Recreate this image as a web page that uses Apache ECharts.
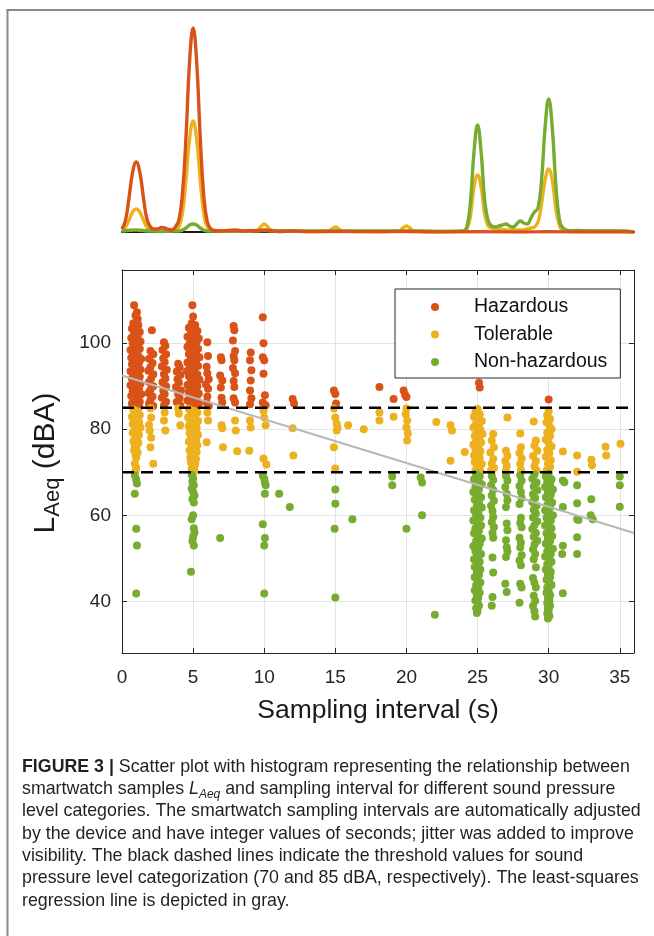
<!DOCTYPE html>
<html>
<head>
<meta charset="utf-8">
<script src="https://cdn.jsdelivr.net/npm/echarts@6/dist/echarts.min.js"></script>
<style>html,body{margin:0;padding:0;background:#fff}#c{width:654px;height:936px}</style>
</head>
<body>
<div id="c"></div>
<script>
// ---------- axis ticks / reference values ----------
const xTicks = [0, 5, 10, 15, 20, 25, 30, 35];
const yTicks = [40, 60, 80, 100];
const xRange = [0, 36];
const yRange = [28, 117];
const thresholds = [70, 85];
const regressionLine = [[0, 92.5], [36, 55.9]];
const categories = ['Hazardous', 'Tolerable', 'Non-hazardous'];

// ---------- top panel: smoothed histograms (relative density) ----------
const histHazardous = [[0,3],[0.25,12],[0.5,35],[0.75,60],[1,70],[1.25,60],[1.5,35],[1.75,13],[2,5],[2.25,3],[2.5,3],[2.75,4.5],[3,4],[3.25,2.5],[3.5,2],[3.75,5],[4,12],[4.25,38],[4.5,95],[4.75,170],[5,204],[5.25,170],[5.5,95],[5.75,36],[6,10],[6.25,3],[6.5,1.5],[7,1],[7.5,1.5],[8,2],[8.5,1],[9,1.5],[9.5,1],[10,2],[10.5,1],[11,0.5],[12,1],[13,0.3],[15,0.5],[18,0.3],[20,0.5],[22,0],[25,0.3],[28,0],[30,0.3],[32,0],[36,0]];
const histTolerable = [[0,1],[0.25,5],[0.5,12],[0.75,20],[1,23],[1.25,20],[1.5,12],[1.75,5],[2,2],[3,1],[3.75,2],[4,5],[4.25,19],[4.5,52],[4.75,93],[5,111],[5.25,93],[5.5,52],[5.75,19],[6,5],[6.5,1.5],[7,1],[8,1],[9,1],[9.5,2],[9.75,5],[10,8],[10.25,5],[10.5,2],[11,0.5],[12,1],[14,0.5],[14.5,1],[14.75,3],[15,5],[15.25,3],[15.5,1],[17,0.5],[19.5,1],[19.75,4],[20,6],[20.25,4],[20.5,1],[22,0.5],[24,0.5],[24.25,3],[24.5,16],[24.75,45],[25,57],[25.25,45],[25.5,18],[25.75,6],[26,4],[26.5,3],[27,2],[27.5,2],[28,2],[28.5,3],[28.75,4],[29,5],[29.25,10],[29.5,28],[29.75,52],[30,63],[30.25,52],[30.5,24],[30.75,7],[31,2],[32,1],[33,1],[34,1],[35,1],[36,0]];
const histNonHazardous = [[0,1],[1,2],[2,1],[3,1],[4,1],[4.25,2],[4.5,4],[4.75,7],[5,8],[5.25,7],[5.5,4],[5.75,2],[6,1],[8,1],[10,1.5],[12,1],[15,1],[20,1],[23,0.5],[24,1],[24.25,5],[24.5,30],[24.75,80],[25,107],[25.25,80],[25.5,32],[25.75,11],[26,6],[26.25,5],[26.5,6],[26.75,7],[27,8],[27.25,6],[27.5,5],[27.75,8],[28,11],[28.25,9],[28.5,8],[28.75,14],[29,20],[29.25,24],[29.5,52],[29.75,105],[30,133],[30.25,105],[30.5,48],[30.75,13],[31,4],[31.5,1],[32,1.5],[33,1],[34,1],[35,1],[36,0]];

// ---------- scatter: [sampling interval (s, jittered), LAeq (dBA)] ----------
const hazardous = [
[0.85,108.8],[1.05,107.2],[0.95,106.4],[1.1,105.6],[0.8,104.6],[1.15,104.2],
[0.7,103.4],[1.0,103.0],[1.25,102.6],[0.85,102.2],[1.1,101.6],[0.65,101.2],[0.95,100.8],[1.3,100.4],[0.75,100.0],[1.05,99.5],[0.9,99.0],[1.25,98.7],[0.6,98.4],[1.0,98.0],[0.8,97.5],[1.15,97.1],[0.65,96.6],[1.35,96.3],[0.95,96.0],[1.2,95.5],[0.7,95.1],[1.0,94.7],[0.85,94.2],[1.3,93.9],[0.6,93.5],[1.1,93.1],[0.9,92.6],[1.25,92.2],[0.7,91.8],[1.05,91.4],[0.85,90.9],[1.3,90.5],[0.6,90.2],[1.0,89.8],[1.2,89.3],[0.75,88.9],[0.95,88.5],[1.35,88.1],[0.65,87.7],[1.1,87.3],[0.85,86.8],[1.25,86.4],[0.7,86.0],[1.0,85.6],[1.2,85.2],[0.8,85.1],
[2.1,103.0],[2.0,98.2],[2.2,97.4],[1.9,96.4],[2.15,95.4],[2.0,94.4],[1.85,93.6],[2.2,92.8],[2.05,91.8],[1.9,91.0],[2.2,90.0],[2.0,89.2],[1.85,88.4],[2.15,87.6],[2.0,86.8],[1.9,86.0],[2.2,85.4],
[2.95,100.2],[3.05,99.4],[2.85,98.4],[3.1,97.4],[2.9,96.5],[3.0,95.6],[2.8,94.6],[3.15,93.8],[2.95,92.8],[3.05,91.8],[2.85,90.9],[3.1,90.0],[2.9,89.0],[3.0,88.2],[2.8,87.3],[3.1,86.4],[2.95,85.5],
[3.95,95.2],[4.05,94.4],[3.85,93.4],[4.1,92.6],[3.9,91.6],[4.0,90.8],[3.8,89.8],[4.15,89.0],[3.95,88.1],[4.05,87.2],[3.85,86.3],[4.1,85.5],
[4.95,108.8],[5.0,106.2],[4.9,104.6],[5.15,104.2],
[4.7,103.6],[5.05,103.2],[5.3,102.8],[4.85,102.4],[5.15,101.9],[4.6,101.5],[5.4,101.1],[4.95,100.7],[5.25,100.3],[4.75,99.9],[5.1,99.5],[4.6,99.1],[5.35,98.7],[4.9,98.3],[5.2,97.9],[4.7,97.5],[5.05,97.1],[5.45,96.7],[4.85,96.3],[5.2,95.9],[4.6,95.5],[5.0,95.1],[5.35,94.7],[4.75,94.3],[5.1,93.9],[4.55,93.5],[4.95,93.1],[5.3,92.7],[4.7,92.3],[5.15,91.9],[5.45,91.5],[4.85,91.1],[5.05,90.7],[4.6,90.3],[5.3,89.9],[4.9,89.5],[5.15,89.1],[4.7,88.7],[5.4,88.3],[5.0,87.9],[4.8,87.5],[5.25,87.1],[4.6,86.7],[5.05,86.3],[5.4,85.9],[4.85,85.5],[5.2,85.2],
[6.0,100.2],[6.05,97.0],[5.95,94.5],[6.0,93.0],[6.1,91.6],[5.9,90.4],[6.05,89.4],[6.0,87.6],[5.95,86.2],[6.1,85.4],
[6.95,96.7],[7.0,96.0],[6.9,92.5],[7.05,91.3],[6.95,89.7],[7.0,87.3],[7.05,86.2],
[7.85,104.0],[7.9,103.0],[7.8,100.6],[7.95,98.2],[7.85,97.0],[7.9,96.0],[7.8,94.2],[7.95,93.0],[7.85,91.2],[7.9,89.8],[7.85,87.2],[7.95,86.2],
[9.05,97.8],[9.0,96.0],[9.1,93.7],[9.05,91.3],[9.0,89.0],[9.1,87.2],[9.0,85.8],
[9.9,106.0],[9.95,100.0],[9.9,96.7],[10.0,96.0],[9.95,92.9],[10.05,87.9],[9.9,86.2],[10.1,85.6],
[12.0,87.0],[12.1,86.0],[14.9,89.0],[15.0,88.2],[15.05,86.0],[18.1,89.8],[19.1,87.0],[19.8,89.0],[19.9,88.0],[20.0,87.5],[25.1,90.8],[25.15,89.7],[30.0,86.9]
];
const tolerable = [
[0.8,84.6],[1.1,84.2],[0.95,83.7],[1.25,83.3],[0.7,82.9],[1.05,82.5],[0.85,82.0],[1.2,81.6],[0.75,81.2],[1.0,80.8],[1.3,80.4],[0.9,80.0],[1.1,79.5],[0.75,79.1],[1.2,78.7],[0.95,78.2],[1.05,77.7],[0.8,77.2],[1.15,76.8],[0.9,76.3],[1.0,75.7],[0.85,75.1],[1.1,74.6],[0.95,74.0],[1.0,73.4],[0.9,72.0],[1.0,71.0],[0.95,70.3],
[2.0,84.9],[2.05,82.7],[1.9,81.0],[1.95,79.7],[2.05,78.0],[2.0,75.8],[2.2,72.0],
[3.0,83.9],[2.95,82.0],[3.05,79.7],[3.95,84.8],[4.0,83.6],[4.1,80.9],
[4.7,84.7],[5.0,84.3],[5.3,83.9],[4.85,83.5],[5.15,83.1],[4.65,82.7],[5.0,82.3],[5.35,81.9],[4.8,81.5],[5.1,81.1],[4.7,80.7],[5.25,80.3],[4.95,79.9],[5.15,79.5],[4.75,79.1],[5.35,78.7],[5.0,78.3],[4.85,77.9],[5.2,77.5],[4.7,77.1],[5.05,76.7],[5.3,76.3],[4.9,75.9],[5.1,75.5],[4.75,75.1],[5.25,74.7],[4.95,74.3],[5.1,73.9],[4.8,73.5],[5.2,73.1],[5.0,72.7],[4.85,72.3],[5.15,71.9],[4.95,71.5],[5.05,71.1],[4.9,70.7],[5.1,70.3],
[6.0,83.9],[6.05,82.0],[5.95,77.0],[7.0,80.9],[7.05,80.2],[7.1,75.8],[7.95,82.0],[8.0,79.7],[8.1,74.9],[9.0,82.0],[9.05,80.4],[8.95,75.0],
[9.95,84.3],[10.0,82.7],[10.1,80.9],[9.95,73.2],[10.15,71.8],[12.0,80.2],[12.05,73.9],
[14.9,84.8],[15.0,82.7],[15.1,81.3],[15.15,80.4],[15.1,79.7],[14.9,75.8],[15.0,70.9],[15.9,80.9],[17.0,80.0],
[18.1,83.9],[18.1,82.0],[19.1,82.9],[20.0,84.8],[19.95,83.5],[20.05,82.0],[20.0,80.4],[20.1,79.0],[20.05,77.4],
[22.1,81.7],[23.1,80.9],[23.2,79.7],[23.1,72.7],[24.1,74.7],
[25.0,84.7],[24.85,84.0],[25.15,83.5],[24.75,82.9],[25.05,82.4],[25.3,81.9],[24.9,81.4],[25.1,80.9],[24.7,80.4],[25.2,79.9],[24.95,79.4],[25.35,78.9],[24.8,78.4],[25.1,77.9],[24.9,77.4],[25.25,76.9],[24.7,76.4],[25.05,75.9],[24.85,75.4],[25.2,74.9],[24.95,74.4],[24.75,73.9],[25.15,73.4],[25.0,72.9],[24.8,72.4],[25.3,71.9],[24.95,71.4],[25.1,70.9],[24.85,70.4],[25.2,70.2],
[26.1,78.9],[26.0,77.4],[26.15,75.8],[25.9,74.6],[26.1,73.1],[26.0,72.0],[26.15,71.0],[25.95,70.4],
[27.1,82.7],[27.0,75.0],[27.1,73.8],[26.95,72.6],[27.05,71.5],[27.0,70.4],
[28.0,79.0],[28.05,75.8],[27.95,74.5],[28.1,73.2],[28.0,72.0],[28.05,70.5],
[28.95,81.8],[29.1,77.4],[29.0,76.2],[29.2,75.0],[28.9,73.8],[29.1,72.6],[29.0,71.4],[29.15,70.4],
[30.0,84.1],[29.9,83.2],[30.1,82.4],[29.85,81.6],[30.05,80.8],[30.2,80.0],[29.9,79.2],[30.1,78.4],[29.8,77.6],[30.0,76.8],[30.2,76.0],[29.9,75.2],[30.05,74.4],[29.8,73.6],[30.15,72.8],[29.95,72.0],[30.1,71.2],[29.85,70.4],[30.0,70.1],
[31.0,74.8],[32.0,73.9],[32.0,70.1],[33.0,72.9],[33.05,71.6],[34.0,75.9],[34.05,73.9],[35.05,76.6]
];
const nonHazardous = [
[0.9,69.3],[1.0,68.3],[1.05,67.4],[0.9,65.0],[1.0,56.9],[1.05,53.0],[1.0,41.8],
[4.9,69.4],[5.0,68.6],[4.95,67.8],[5.05,67.0],[4.9,66.2],[5.0,65.4],[5.1,64.6],[4.95,63.8],[5.05,63.0],[5.0,60.0],[4.9,59.1],[5.05,57.0],[5.1,56.0],[5.0,55.0],[4.95,54.0],[5.05,53.0],[4.85,46.9],
[6.9,54.7],
[9.9,69.2],[10.0,68.5],[10.05,67.6],[10.1,67.0],[10.05,65.0],[9.9,57.9],[10.05,54.7],[10.0,53.0],[10.0,41.8],
[11.05,65.0],[11.8,61.9],[15.0,66.0],[15.0,62.7],[14.95,56.9],[15.0,40.9],[16.2,59.1],
[19.0,69.0],[19.0,67.0],[20.0,56.9],[21.0,68.8],[21.1,67.6],[21.1,60.0],[22.0,36.9],
[24.9,69.6],[25.15,69.0],[24.75,68.4],[25.05,67.8],[25.3,67.2],[24.85,66.6],[25.1,66.0],[24.7,65.4],[25.0,64.8],[25.25,64.2],[24.8,63.6],[25.1,63.0],[24.95,62.4],[25.3,61.8],[24.75,61.2],[25.05,60.6],[24.9,60.0],[25.2,59.4],[24.7,58.8],[25.0,58.2],[25.25,57.6],[24.85,57.0],[25.1,56.4],[24.75,55.8],[25.0,55.2],[25.3,54.6],[24.9,54.0],[25.15,53.4],[24.7,52.8],[25.05,52.2],[24.85,51.6],[25.25,51.0],[24.95,50.4],[24.75,49.8],[25.15,49.2],[25.0,48.6],[24.8,48.0],[25.2,47.4],[24.95,46.8],[25.1,46.2],[24.8,45.6],[25.0,45.0],[25.2,44.4],[24.9,43.8],[25.05,43.2],[24.8,42.6],[25.15,42.0],[24.95,41.4],[25.05,40.8],[24.85,40.2],[25.0,39.6],[25.1,39.0],[24.9,38.4],[25.0,37.8],[24.95,37.3],
[26.0,69.2],[26.1,68.2],[25.95,67.0],[26.1,65.9],[26.0,64.6],[26.15,63.4],[25.95,62.2],[26.05,61.0],[26.1,59.6],[26.0,58.4],[26.15,57.2],[26.05,55.9],[26.1,54.8],[26.05,50.2],[26.1,46.7],[26.05,41.0],[26.0,39.0],
[27.0,69.2],[27.1,68.1],[26.95,66.6],[27.05,65.0],[27.1,63.5],[27.0,61.9],[27.05,58.1],[27.1,56.5],[27.0,54.2],[27.05,52.6],[27.1,51.6],[27.0,50.3],[26.95,44.1],[27.05,42.2],
[28.0,69.3],[28.1,68.0],[27.95,66.8],[28.05,65.4],[28.1,64.0],[27.95,62.6],[28.05,59.4],[28.0,58.2],[28.1,57.2],[27.95,54.8],[28.05,53.6],[28.0,52.5],[28.1,50.7],[27.95,49.5],[28.05,48.4],[28.0,44.1],[28.1,43.2],[27.95,39.7],
[29.0,69.4],[28.85,68.5],[29.15,67.6],[28.95,66.7],[29.2,65.8],[28.9,64.9],[29.05,64.0],[28.85,63.1],[29.15,62.2],[28.95,61.3],[29.1,60.4],[28.9,59.5],[29.2,58.6],[29.0,57.7],[28.85,56.8],[29.1,55.9],[28.95,55.0],[29.2,54.1],[29.0,53.2],[28.9,52.1],[29.05,51.0],[28.95,49.8],[29.1,47.9],[28.9,45.4],[29.0,44.3],[29.1,43.2],[28.95,41.3],[29.05,40.1],[28.9,38.9],[29.0,37.7],[29.05,36.5],
[30.0,69.6],[29.8,69.0],[30.2,68.4],[29.9,67.8],[30.1,67.2],[29.75,66.6],[30.3,66.0],[29.95,65.4],[30.15,64.8],[29.8,64.2],[30.05,63.6],[30.25,63.0],[29.9,62.4],[30.1,61.8],[29.75,61.2],[30.0,60.6],[30.3,60.0],[29.85,59.4],[30.15,58.8],[29.95,58.2],[29.75,57.6],[30.2,57.0],[30.05,56.4],[29.85,55.8],[30.25,55.2],[29.95,54.6],[30.1,54.0],[29.8,53.4],[30.0,52.8],[30.3,52.2],[29.9,51.6],[30.15,51.0],[29.75,50.4],[30.05,49.8],[30.2,49.2],[29.9,48.6],[30.0,48.0],[29.8,47.4],[30.15,46.8],[29.95,46.2],[30.1,45.6],[29.85,45.0],[30.05,44.4],[30.2,43.8],[29.9,43.2],[30.0,42.6],[29.85,42.0],[30.1,41.4],[29.95,40.8],[30.05,40.2],[29.9,39.6],[30.1,39.0],[29.95,38.4],[30.0,37.8],[29.9,37.2],[30.05,36.6],[29.95,36.0],
[31.0,68.1],[31.1,67.7],[31.0,61.9],[31.0,52.9],[30.95,51.0],[31.0,41.9],
[32.0,67.0],[32.0,62.8],[32.0,59.1],[32.1,58.9],[32.0,54.9],[32.0,51.0],
[33.0,63.7],[32.95,60.0],[33.1,59.1],[35.0,69.0],[35.0,67.0],[35.0,62.0]
];

// ---------- texts ----------
const captionLines = [
  '{b|FIGURE 3 |} Scatter plot with histogram representing the relationship between',
  'smartwatch samples {i|L}{s|Aeq} and sampling interval for different sound pressure',
  'level categories. The smartwatch sampling intervals are automatically adjusted',
  'by the device and have integer values of seconds; jitter was added to improve',
  'visibility. The black dashed lines indicate the threshold values for sound',
  'pressure level categorization (70 and 85 dBA, respectively). The least-squares',
  'regression line is depicted in gray.'
];
const xTitle = 'Sampling interval (s)';
const yTitle = '{n|L}{s|Aeq}{n| (dBA)}';

// ---------- styles ----------
const FONT = '"Liberation Sans", Arial, Helvetica, sans-serif';
const AX = '#262626';
const COLORS = {red: '#D95319', yellow: '#EDB120', green: '#77AC30'};
const CAP = 17.8;

const chart = echarts.init(document.getElementById('c'), null, {renderer: 'canvas'});

function valueAxis(gridIndex, range, extra) {
  return Object.assign({
    gridIndex: gridIndex, type: 'value', min: range[0], max: range[1],
    axisLine: {show: true, onZero: false, lineStyle: {color: AX, width: 1}},
    splitLine: {show: false}, axisLabel: {show: false}, axisTick: {show: false}
  }, extra);
}
const tickStyle = (vals) => ({show: true, inside: true, length: 5, customValues: vals, lineStyle: {color: AX, width: 1}});
const gridLine = {show: true, lineStyle: {color: '#e4e4e4', width: 1}};

function hist(name, data, color) {
  return {name: name, type: 'line', xAxisIndex: 0, yAxisIndex: 0, data: data, smooth: 0.45,
    showSymbol: false, symbol: 'none', lineStyle: {color: color, width: 3.4}, itemStyle: {color: color}, z: 3};
}
function scat(name, data, color) {
  return {name: name, type: 'scatter', xAxisIndex: 1, yAxisIndex: 1, data: data, symbol: 'circle',
    symbolSize: 8, itemStyle: {color: color, opacity: 1}, z: 2};
}
function hline(v) {
  return {type: 'line', xAxisIndex: 1, yAxisIndex: 1, data: [[xRange[0], v], [xRange[1], v]], symbol: 'none',
    lineStyle: {color: '#000', width: 2.5, type: [12, 7]}, z: 6, silent: true};
}

const captionGraphics = captionLines.map((t, i) => ({
  type: 'text', left: 22, top: 756 + i * 22.3,
  style: {text: t, font: CAP + 'px ' + FONT, fill: '#231f20', lineHeight: 22,
    rich: {
      b: {fontWeight: 'bold', fontSize: CAP, fontFamily: FONT, fill: '#231f20', lineHeight: 22},
      i: {fontStyle: 'italic', fontSize: CAP, fontFamily: FONT, fill: '#231f20', lineHeight: 22},
      s: {fontStyle: 'italic', fontSize: 12, fontFamily: FONT, fill: '#231f20', lineHeight: 13, verticalAlign: 'bottom'}
    }}
}));

const option = {
  animation: false,
  backgroundColor: '#ffffff',
  textStyle: {fontFamily: FONT},
  grid: [
    {left: 122, top: 20, width: 512, height: 212, outerBoundsMode: 'none'},
    {left: 122, top: 270, width: 512, height: 383, outerBoundsMode: 'none'}
  ],
  xAxis: [
    valueAxis(0, xRange, {axisLine: {show: true, onZero: false, lineStyle: {color: '#1a1a1a', width: 2}}}),
    valueAxis(1, xRange, {position: 'bottom', axisTick: tickStyle(xTicks),
      axisLabel: {show: true, customValues: xTicks, margin: 15, fontSize: 19, color: AX, fontFamily: FONT},
      splitLine: gridLine}),
    valueAxis(1, xRange, {position: 'top', axisTick: tickStyle(xTicks)})
  ],
  yAxis: [
    valueAxis(0, [0, 212], {show: false}),
    valueAxis(1, yRange, {position: 'left', axisTick: tickStyle(yTicks),
      axisLabel: {show: true, customValues: yTicks, margin: 11, fontSize: 19, color: AX, fontFamily: FONT},
      splitLine: gridLine}),
    valueAxis(1, yRange, {position: 'right', axisTick: tickStyle(yTicks)})
  ],
  legend: {
    data: categories, left: 395, top: 289, orient: 'vertical',
    icon: 'circle', itemWidth: 68, itemHeight: 8, itemGap: 7.5,
    padding: [8, 13, 6, 36], backgroundColor: '#fff', borderColor: AX, borderWidth: 1, borderRadius: 0,
    textStyle: {fontSize: 19.5, color: '#111', fontFamily: FONT, lineHeight: 20},
    selectedMode: false, z: 10
  },
  series: [
    hist('Tolerable density', histTolerable, COLORS.yellow),
    hist('Non-hazardous density', histNonHazardous, COLORS.green),
    hist('Hazardous density', histHazardous, COLORS.red),
    scat(categories[0], hazardous, COLORS.red),
    scat(categories[1], tolerable, COLORS.yellow),
    scat(categories[2], nonHazardous, COLORS.green),
    hline(thresholds[0]), hline(thresholds[1]),
    {type: 'line', xAxisIndex: 1, yAxisIndex: 1, data: regressionLine, symbol: 'none',
      lineStyle: {color: '#b8b8b8', width: 2}, z: 5, silent: true}
  ],
  graphic: [
    {type: 'line', shape: {x1: 7.5, y1: 9, x2: 7.5, y2: 936}, style: {stroke: '#8a8a8a', lineWidth: 2}},
    {type: 'line', shape: {x1: 6.5, y1: 10, x2: 654, y2: 10}, style: {stroke: '#8a8a8a', lineWidth: 2}},
    {type: 'text', x: 378, y: 711, style: {text: xTitle, font: '26.5px ' + FONT, fill: '#1a1a1a', align: 'center', verticalAlign: 'middle'}},
    {type: 'text', x: 46, y: 463, rotation: Math.PI / 2,
      style: {text: yTitle, align: 'center', verticalAlign: 'middle', fill: '#1a1a1a',
        rich: {
          n: {fontSize: 30, fontFamily: FONT, fill: '#1a1a1a', lineHeight: 36, verticalAlign: 'middle'},
          s: {fontSize: 22, fontFamily: FONT, fill: '#1a1a1a', lineHeight: 22, verticalAlign: 'bottom'}
        }}}
  ].concat(captionGraphics)
};
chart.setOption(option);
</script>
</body>
</html>
